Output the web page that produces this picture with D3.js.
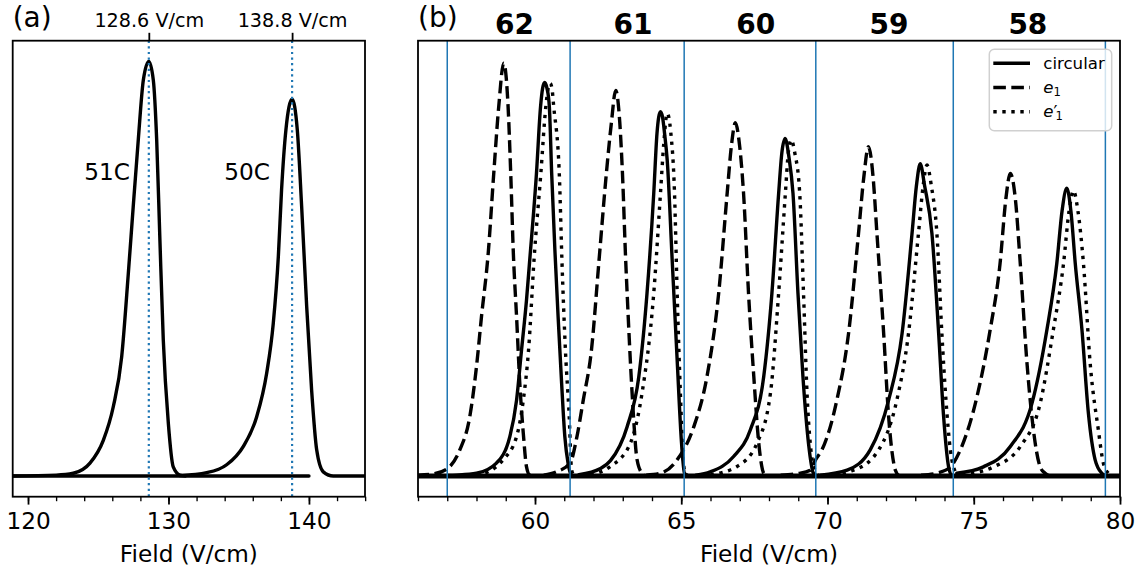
<!DOCTYPE html>
<html><head><meta charset="utf-8">
<script src="https://cdn.jsdelivr.net/npm/d3@7"></script>
<style>body{margin:0;background:#fff}svg{display:block}text{font-family:"DejaVu Sans",sans-serif;fill:#000}</style>
</head><body>
<script>
// ---------- Panel (a) data ----------
const aPeak51 = [[118.9,0],[122.0,0.002],[123.22,0.0065],[124.41,0.031],[125.36,0.086],[126.07,0.167],[126.67,0.288],[127.14,0.488],[127.49,0.650],[127.85,0.811],[128.21,0.955],[128.6,1.0],[128.92,0.955],[129.16,0.811],[129.39,0.569],[129.63,0.328],[129.99,0.127],[130.34,0.022],[130.82,0.002],[131.2,0]];
const aPeak50 = [[130.82,0.001],[132.72,0.008],[134.14,0.027],[135.32,0.071],[136.28,0.143],[136.99,0.248],[137.46,0.368],[137.82,0.529],[138.05,0.690],[138.36,0.835],[138.8,0.909],[139.17,0.835],[139.48,0.650],[139.84,0.408],[140.19,0.207],[140.55,0.063],[141.02,0.010],[141.73,0],[144,0]];
const aBaseline = [[118.9,0],[140,0]];
const aMarkers = [128.6, 138.8];
const aMarkerLabels = ["128.6 V/cm", "138.8 V/cm"];
const aPeakNames = ["51C", "50C"];
const aPeakNamePos = [[127.26,0.714],[137.22,0.714]];
const aTicks = [120, 130, 140];
const aMinorTicks = [120,122,124,126,128,130,132,134,136,138,140,142,144];

// ---------- Panel (b) data ----------
const bCircular = [
 [[57.0,0.001],[57.32,0.002],[58.00,0.0065],[58.68,0.031],[59.14,0.095],[59.37,0.183],[59.54,0.304],[59.71,0.425],[59.82,0.521],[60.05,0.730],[60.19,0.891],[60.26,0.935],[60.33,0.949],[60.41,0.935],[60.49,0.891],[60.57,0.730],[60.68,0.545],[60.79,0.384],[60.91,0.224],[61.02,0.095],[61.13,0.031],[61.25,0.002],[61.4,0]],
 [[61.5,0.003],[62.24,0.018],[62.58,0.037],[63.15,0.119],[63.55,0.240],[63.83,0.441],[64.06,0.682],[64.17,0.826],[64.23,0.866],[64.29,0.879],[64.36,0.866],[64.43,0.826],[64.52,0.762],[64.69,0.521],[64.86,0.280],[65.01,0.079],[65.11,0.0065],[65.25,0]],
 [[65.5,0.002],[65.99,0.010],[66.79,0.047],[67.36,0.111],[67.82,0.240],[68.10,0.441],[68.33,0.682],[68.44,0.78],[68.55,0.814],[68.68,0.77],[68.82,0.682],[68.99,0.441],[69.16,0.240],[69.35,0.079],[69.52,0.0065],[69.65,0]],
 [[69.75,0.002],[70.67,0.014],[71.46,0.063],[72.09,0.183],[72.55,0.344],[72.89,0.585],[73.04,0.70],[73.17,0.753],[73.32,0.70],[73.57,0.585],[73.80,0.344],[73.97,0.143],[74.14,0.022],[74.25,0.002],[74.4,0]],
 [[74.42,0.0065],[75.33,0.022],[76.25,0.071],[76.99,0.175],[77.50,0.352],[77.84,0.513],[78.02,0.64],[78.18,0.694],[78.32,0.64],[78.47,0.513],[78.70,0.352],[78.92,0.151],[79.15,0.039],[79.38,0.0065],[79.55,0]]
];
const bE1 = [
 [[55.95,0.002],[56.52,0.005],[57.03,0.019],[57.43,0.063],[57.77,0.143],[58.00,0.264],[58.17,0.384],[58.40,0.537],[58.59,0.730],[58.76,0.891],[58.93,0.996],[59.08,0.891],[59.17,0.730],[59.26,0.537],[59.37,0.384],[59.48,0.224],[59.60,0.103],[59.71,0.022],[59.82,0.002],[59.95,0]],
 [[60.3,0.002],[60.73,0.010],[61.20,0.031],[61.42,0.09],[61.65,0.183],[61.93,0.304],[62.19,0.521],[62.44,0.730],[62.61,0.851],[62.76,0.93],[62.90,0.851],[62.99,0.730],[63.10,0.521],[63.15,0.441],[63.32,0.2],[63.49,0.039],[63.66,0.0065],[63.8,0]],
 [[63.8,0.002],[64.29,0.0065],[64.86,0.039],[65.43,0.119],[65.88,0.240],[66.28,0.441],[66.57,0.682],[66.72,0.80],[66.85,0.852],[66.99,0.80],[67.13,0.682],[67.30,0.441],[67.48,0.240],[67.65,0.079],[67.82,0.0065],[67.95,0]],
 [[68.4,0.002],[69.0,0.006],[69.41,0.014],[69.6,0.04],[69.81,0.063],[70.32,0.183],[70.72,0.344],[71.06,0.585],[71.24,0.72],[71.40,0.794],[71.56,0.72],[71.69,0.585],[71.92,0.344],[72.09,0.143],[72.32,0.014],[72.45,0]],
 [[73.2,0.002],[73.8,0.008],[74.20,0.022],[74.59,0.071],[75.11,0.191],[75.56,0.352],[75.90,0.513],[76.10,0.67],[76.25,0.730],[76.42,0.67],[76.59,0.513],[76.82,0.272],[77.04,0.111],[77.27,0.022],[77.44,0.0065],[77.6,0]]
];
const bE1p = [
 [[58.0,0.003],[58.40,0.010],[58.91,0.039],[59.37,0.095],[59.60,0.183],[59.78,0.304],[59.97,0.525],[60.20,0.73],[60.37,0.891],[60.45,0.935],[60.52,0.947],[60.58,0.935],[60.64,0.891],[60.83,0.730],[60.92,0.521],[61.04,0.304],[61.17,0.143],[61.25,0.015],[61.35,0]],
 [[61.9,0.003],[62.58,0.023],[63.26,0.079],[63.66,0.20],[64.06,0.441],[64.29,0.682],[64.40,0.80],[64.52,0.875],[64.64,0.83],[64.77,0.682],[64.86,0.441],[64.97,0.2],[65.05,0.06],[65.13,0.006],[65.25,0]],
 [[66.0,0.003],[66.91,0.023],[67.59,0.079],[68.05,0.2],[68.33,0.441],[68.56,0.682],[68.66,0.78],[68.76,0.811],[68.88,0.78],[69.05,0.682],[69.18,0.441],[69.30,0.2],[69.41,0.079],[69.58,0.012],[69.7,0]],
 [[69.9,0.002],[70.89,0.014],[71.75,0.063],[72.37,0.183],[72.77,0.344],[73.11,0.585],[73.27,0.70],[73.40,0.750],[73.55,0.70],[73.74,0.585],[73.91,0.344],[74.05,0.183],[74.20,0.063],[74.37,0.010],[74.5,0]],
 [[74.6,0.003],[75.68,0.022],[76.59,0.071],[77.27,0.175],[77.72,0.352],[78.07,0.513],[78.26,0.64],[78.41,0.688],[78.56,0.64],[78.75,0.513],[78.98,0.272],[79.26,0.111],[79.43,0.031],[79.60,0.0065],[79.75,0]]
];
const bBaseline = [[56,0],[80,0]];
const bVLines = [57.0, 61.2, 65.1, 69.6, 74.3, 79.5];
const bGroupLabels = ["62","61","60","59","58"];
const bGroupLabelX = [59.3, 63.35, 67.55, 72.1, 76.85];
const bTicks = [60, 65, 70, 75, 80];
const bMinorTicks = d3.range(56, 81, 1);
const legendNames = ["circular", "e1", "e1'"];

// ---------- layout ----------
const W = 1140, H = 572;
const yTop = 40.7, yBot = 496.7;
const LW = 3.4, BLUE = "#1f77b4";
const FT = 23.2;
const svg = d3.select("body").append("svg").attr("width", W).attr("height", H);

const y = d3.scaleLinear().domain([-0.05, 1.05]).range([yBot, yTop]);
const xa = d3.scaleLinear().domain([118.91, 143.99]).range([12.7, 365]);
const xb = d3.scaleLinear().domain([56, 80]).range([418, 1120]);

function clip(id, x0, x1) {
  svg.append("clipPath").attr("id", id).append("rect")
    .attr("x", x0).attr("y", yTop).attr("width", x1 - x0).attr("height", yBot - yTop);
}
clip("ca", 12.7, 365); clip("cb", 418, 1120);

function drawLine(g, x, data, dash, width) {
  g.append("path").datum(data)
    .attr("d", d3.line().x(d => x(d[0])).y(d => y(d[1])).curve(d3.curveMonotoneX))
    .attr("fill", "none").attr("stroke", "#000").attr("stroke-width", width || LW)
    .attr("stroke-linejoin", "round")
    .attr("stroke-dasharray", dash || null)
    .attr("stroke-linecap", dash ? "butt" : "round");
}
const DASH = (3.7*LW) + "," + (1.6*LW);
const DOT = (1*LW) + "," + (1.65*LW);

function bottomAxis(x, major, minor) {
  const g = svg.append("g").attr("transform", `translate(0,${yBot})`);
  g.call(d3.axisBottom(x).tickValues(minor).tickSize(4.5).tickFormat(""))
    .call(s => s.select(".domain").remove())
    .call(s => s.selectAll("line").attr("stroke-width", 1.35).attr("stroke", "#000"));
  const g2 = svg.append("g").attr("transform", `translate(0,${yBot})`);
  g2.call(d3.axisBottom(x).tickValues(major).tickSize(7.9).tickPadding(7.5).tickFormat(d3.format("d")))
    .call(s => s.select(".domain").remove())
    .call(s => s.selectAll("line").attr("stroke-width", 1.8).attr("stroke", "#000"))
    .call(s => s.selectAll("text").attr("font-size", FT).attr("font-family", "DejaVu Sans").attr("fill", "#000"));
  const r = x.range();
  svg.append("text").attr("x", (r[0] + r[1]) / 2).attr("y", 562).attr("text-anchor", "middle")
    .attr("font-size", FT).text("Field (V/cm)");
}

// ---------- Panel (a) ----------
const ga = svg.append("g").attr("clip-path", "url(#ca)");
drawLine(ga, xa, aBaseline, null);
drawLine(ga, xa, aPeak51, null);
drawLine(ga, xa, aPeak50, null);
aMarkers.forEach(m => {
  ga.append("line").attr("x1", xa(m)).attr("x2", xa(m)).attr("y1", yTop).attr("y2", yBot)
    .attr("stroke", BLUE).attr("stroke-width", 2.2).attr("stroke-dasharray", "2.2,3.4");
});
aPeakNames.forEach((t, i) => {
  svg.append("text").attr("x", xa(aPeakNamePos[i][0])).attr("y", y(aPeakNamePos[i][1]))
    .attr("text-anchor", "end").attr("font-size", FT).text(t);
});
svg.append("rect").attr("x", 12.7).attr("y", yTop).attr("width", 365 - 12.7).attr("height", yBot - yTop)
  .attr("fill", "none").attr("stroke", "#000").attr("stroke-width", 1.8);
bottomAxis(xa, aTicks, aMinorTicks);
const gt = svg.append("g").attr("transform", `translate(0,${yTop})`);
gt.call(d3.axisTop(xa).tickValues(aMarkers).tickSize(7.9).tickPadding(6).tickFormat((d, i) => aMarkerLabels[i]))
  .call(s => s.select(".domain").remove())
  .call(s => s.selectAll("line").attr("stroke-width", 1.8).attr("stroke", "#000"))
  .call(s => s.selectAll("text").attr("font-size", 19.2).attr("font-family", "DejaVu Sans").attr("fill", "#000"));
svg.append("text").attr("x", 12.7).attr("y", 27).attr("font-size", 28).text("(a)");

// ---------- Panel (b) ----------
const gb = svg.append("g").attr("clip-path", "url(#cb)");
drawLine(gb, xb, bBaseline, null, 5);
bE1.forEach(d => drawLine(gb, xb, d, DASH));
bE1p.forEach(d => drawLine(gb, xb, d, DOT));
bCircular.forEach(d => drawLine(gb, xb, d, null));
bVLines.forEach(v => {
  gb.append("line").attr("x1", xb(v)).attr("x2", xb(v)).attr("y1", yTop).attr("y2", yBot)
    .attr("stroke", BLUE).attr("stroke-width", 1.5);
});
svg.append("rect").attr("x", 418).attr("y", yTop).attr("width", 1120 - 418).attr("height", yBot - yTop)
  .attr("fill", "none").attr("stroke", "#000").attr("stroke-width", 1.8);
bottomAxis(xb, bTicks, bMinorTicks);
bGroupLabels.forEach((t, i) => {
  svg.append("text").attr("x", xb(bGroupLabelX[i])).attr("y", 34.3).attr("text-anchor", "middle")
    .attr("font-size", 28).attr("font-weight", "bold").text(t);
});
svg.append("text").attr("x", 418).attr("y", 27).attr("font-size", 28).text("(b)");

// legend
const lg = svg.append("g");
lg.append("rect").attr("x", 989.3).attr("y", 49.3).attr("width", 122.4).attr("height", 81.4)
  .attr("rx", 5).attr("fill", "#fff").attr("fill-opacity", 0.8).attr("stroke", "#d0d0d0").attr("stroke-width", 1.5);
const rows = [63.3, 87.5, 111.7];
const styles = [null, DASH, DOT];
rows.forEach((ry, i) => {
  lg.append("line").attr("x1", 993.3).attr("x2", 1030).attr("y1", ry).attr("y2", ry)
    .attr("stroke", "#000").attr("stroke-width", LW).attr("stroke-dasharray", styles[i]).attr("stroke-linecap", "butt");
});
const FS = 16.6;
lg.append("text").attr("x", 1043.3).attr("y", rows[0] + 6).attr("font-size", FS).text(legendNames[0]);
const t1 = lg.append("text").attr("x", 1043.3).attr("y", rows[1] + 5).attr("font-size", FS);
t1.append("tspan").attr("font-style", "italic").text("e");
t1.append("tspan").attr("font-size", FS * 0.7).attr("dy", 3.5).text("1");
const t2 = lg.append("text").attr("x", 1043.3).attr("y", rows[2] + 5).attr("font-size", FS);
t2.append("tspan").attr("font-style", "italic").text("e");
t2.append("tspan").attr("font-size", FS * 1.05).attr("dy", 1).text("\u2032");
t2.append("tspan").attr("font-size", FS * 0.7).attr("dx", -2).attr("dy", 2.5).text("1");
</script>
</body></html>
